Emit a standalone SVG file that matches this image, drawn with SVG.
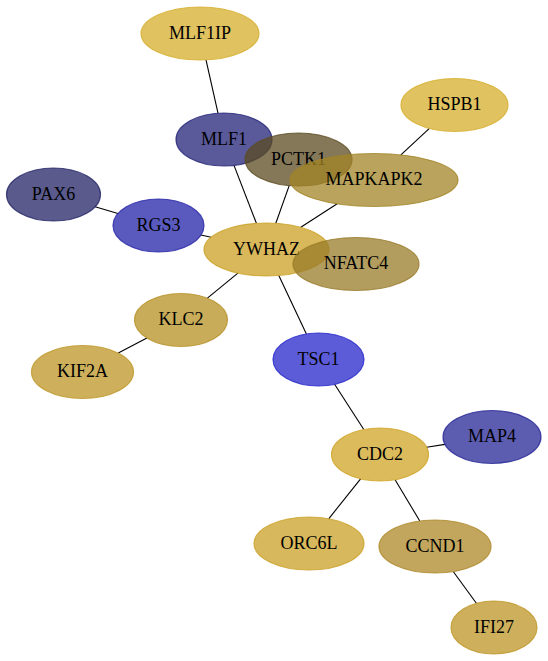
<svg xmlns="http://www.w3.org/2000/svg" width="548" height="661" viewBox="0 0 548 661">
<style>
.n ellipse{fill-opacity:0.75;stroke-opacity:0.8;stroke-width:1.2}
.n text{font-family:"Liberation Serif","Times New Roman",serif;font-size:18px;text-anchor:middle;fill:#000}
.e line{stroke:#000;stroke-width:1.1}
</style>
<rect width="548" height="661" fill="#fff"/>
<g id="edges" class="e">
<line x1="206" y1="59.9" x2="218" y2="113.2"/>
<line x1="234" y1="165.4" x2="256.4" y2="223.3"/>
<line x1="289.2" y1="185.6" x2="275.8" y2="223.3"/>
<line x1="337.2" y1="203.8" x2="300.8" y2="227.3"/>
<line x1="429.4" y1="128.4" x2="400.9" y2="154.9"/>
<line x1="95.1" y1="206.8" x2="117.9" y2="213.5"/>
<line x1="201" y1="235" x2="211.1" y2="237.2"/>
<line x1="237.9" y1="273.1" x2="207.4" y2="298.2"/>
<line x1="278.8" y1="275.5" x2="306.4" y2="333.9"/>
<line x1="146.9" y1="338" x2="118.3" y2="353.1"/>
<line x1="334.6" y1="384.3" x2="363.8" y2="429.5"/>
<line x1="426.6" y1="447.2" x2="444.9" y2="444.4"/>
<line x1="360.6" y1="478.8" x2="328.7" y2="518.8"/>
<line x1="395.1" y1="479.7" x2="419.8" y2="521"/>
<line x1="453.2" y1="571.5" x2="476.4" y2="603.3"/>
</g>
<g id="MLF1IP" class="n"><ellipse cx="200" cy="33.5" rx="59" ry="26.5" fill="#d6ae2b" stroke="#d6ae2b"/><text x="200" y="38.5">MLF1IP</text></g>
<g id="HSPB1" class="n"><ellipse cx="454.5" cy="105" rx="53.5" ry="26.5" fill="#d6ae2b" stroke="#d6ae2b"/><text x="454.5" y="110">HSPB1</text></g>
<g id="MLF1" class="n"><ellipse cx="224" cy="139.5" rx="48" ry="26.5" fill="#232378" stroke="#232378"/><text x="224" y="144.5">MLF1</text></g>
<g id="PCTK1" class="n"><ellipse cx="298.5" cy="159.5" rx="53.5" ry="26.5" fill="#5b4b20" stroke="#5b4b20"/><text x="298.5" y="164.5">PCTK1</text></g>
<g id="MAPKAPK2" class="n"><ellipse cx="374" cy="180" rx="84" ry="26.5" fill="#a38426" stroke="#a38426"/><text x="374" y="185">MAPKAPK2</text></g>
<g id="PAX6" class="n"><ellipse cx="53.5" cy="194.5" rx="47" ry="26.5" fill="#232366" stroke="#232366"/><text x="53.5" y="199.5">PAX6</text></g>
<g id="RGS3" class="n"><ellipse cx="158.5" cy="225.5" rx="45.5" ry="26.5" fill="#2323a8" stroke="#2323a8"/><text x="158.5" y="230.5">RGS3</text></g>
<g id="YWHAZ" class="n"><ellipse cx="266.5" cy="249.5" rx="62.5" ry="26.5" fill="#cba023" stroke="#cba023"/><text x="266.5" y="254.5">YWHAZ</text></g>
<g id="NFATC4" class="n"><ellipse cx="356" cy="264" rx="63" ry="26.5" fill="#987b28" stroke="#987b28"/><text x="356" y="269">NFATC4</text></g>
<g id="KLC2" class="n"><ellipse cx="181" cy="320" rx="46.5" ry="26.5" fill="#b69023" stroke="#b69023"/><text x="181" y="325">KLC2</text></g>
<g id="KIF2A" class="n"><ellipse cx="82.5" cy="372" rx="51" ry="26.5" fill="#be9626" stroke="#be9626"/><text x="82.5" y="377">KIF2A</text></g>
<g id="TSC1" class="n"><ellipse cx="318.5" cy="359.5" rx="45.5" ry="26.5" fill="#2626cb" stroke="#2626cb"/><text x="318.5" y="364.5">TSC1</text></g>
<g id="CDC2" class="n"><ellipse cx="380" cy="454.5" rx="48.5" ry="26.5" fill="#d0a426" stroke="#d0a426"/><text x="380" y="459.5">CDC2</text></g>
<g id="MAP4" class="n"><ellipse cx="492" cy="437" rx="49" ry="26.5" fill="#262696" stroke="#262696"/><text x="492" y="442">MAP4</text></g>
<g id="ORC6L" class="n"><ellipse cx="309" cy="543.5" rx="55" ry="26.5" fill="#cba026" stroke="#cba026"/><text x="309" y="548.5">ORC6L</text></g>
<g id="CCND1" class="n"><ellipse cx="435" cy="546.5" rx="56" ry="26.5" fill="#ae8828" stroke="#ae8828"/><text x="435" y="551.5">CCND1</text></g>
<g id="IFI27" class="n"><ellipse cx="494" cy="627.5" rx="43" ry="26.5" fill="#be9626" stroke="#be9626"/><text x="494" y="632.5">IFI27</text></g>
</svg>
